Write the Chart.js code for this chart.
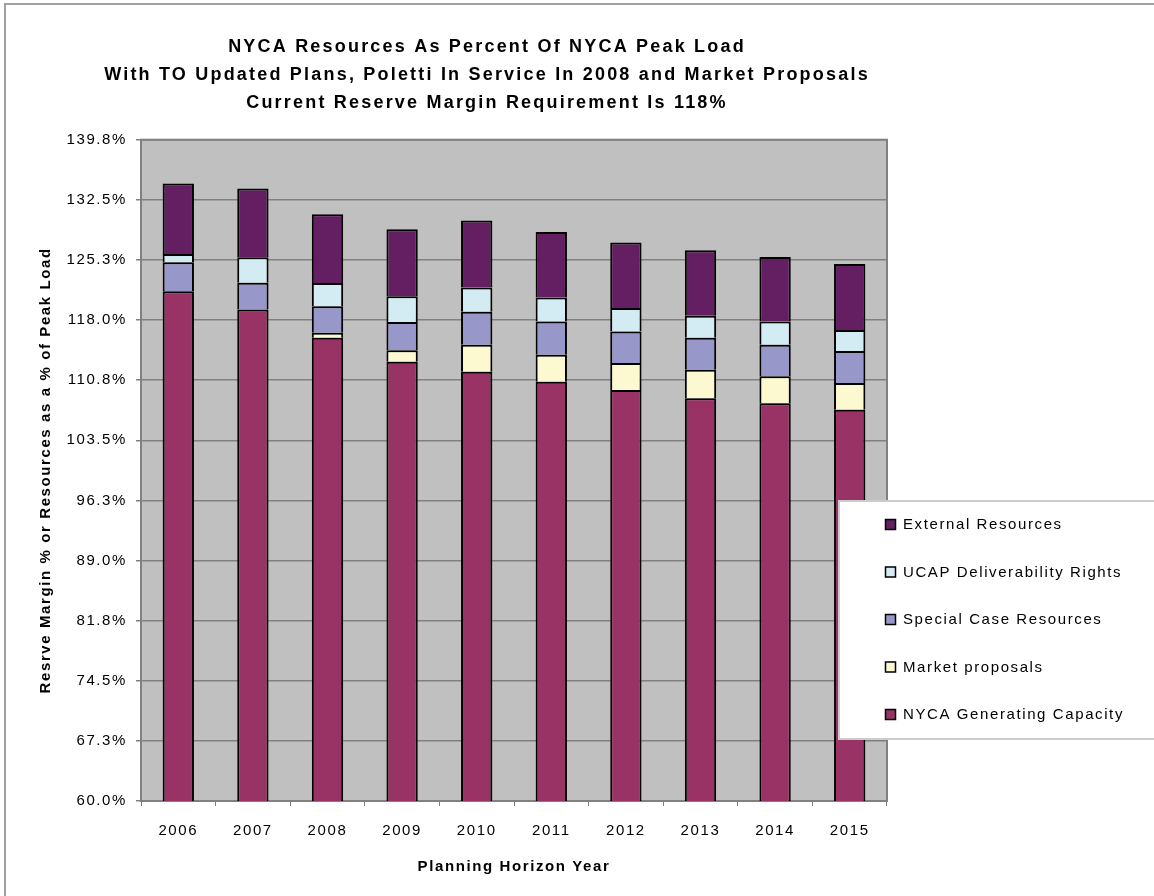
<!DOCTYPE html>
<html>
<head>
<meta charset="utf-8">
<title>NYCA Resources As Percent Of NYCA Peak Load</title>
<script src="https://cdn.jsdelivr.net/npm/chart.js@4"></script>
<style>
    body { margin: 0; background: #ffffff; }
    canvas { display: block; }
</style>
</head>
<body>
<canvas id="resourceChart" width="1154" height="896"></canvas>
<script>

// planning years and resource stacks (% of NYCA peak load)
const years = ["2006", "2007", "2008", "2009", "2010", "2011", "2012", "2013", "2014", "2015"];

const nycaCapacity = [121.5, 119.3, 115.9, 113.0, 111.8, 110.6, 109.6, 108.6, 108.0, 107.2];
const marketProposals = [0, 0, 0.6, 1.4, 3.25, 3.25, 3.25, 3.45, 3.25, 3.25];
const specialCase = [3.5, 3.25, 3.2, 3.4, 4.0, 4.0, 3.8, 3.85, 3.8, 3.85];
const ucapRights = [1.0, 3.05, 2.8, 3.1, 2.9, 2.9, 2.85, 2.65, 2.8, 2.55];
const externalRes = [8.5, 8.3, 8.3, 8.1, 8.1, 7.9, 7.9, 7.9, 7.8, 7.95];

const yTickLabels = [
    "60.0%", "67.3%", "74.5%", "81.8%", "89.0%", "96.3%",
    "103.5%", "110.8%", "118.0%", "125.3%", "132.5%", "139.8%"
];
const yMin = 60.0;
const yMax = 139.8;

const FONT = "Arial, 'Liberation Sans', sans-serif";
const TRACKING = "1.6px";
const TITLE_TRACKING = "2.2px";

// wide text tracking, set before layout so measuring and drawing agree;
// the title block is re-centred over the whole chart frame and tracked wider
const textTracking = {
    id: "textTracking",
    beforeUpdate(chart) { chart.ctx.letterSpacing = TRACKING; },
    afterLayout(chart) {
        const t = chart.titleBlock;
        if (!t) return;
        t.left = 100;
        t.right = 874;
        if (!t._tracked) {
            const draw = t.draw.bind(t);
            t.draw = () => {
                chart.ctx.letterSpacing = TITLE_TRACKING;
                draw();
                chart.ctx.letterSpacing = TRACKING;
            };
            t._tracked = true;
        }
    },
    beforeDraw(chart) { chart.ctx.letterSpacing = TRACKING; }
};

// grey plot area plus the outer frame
const plotBackground = {
    id: "plotBackground",
    beforeDraw(chart) {
        const { ctx, chartArea: a } = chart;
        ctx.save();
        ctx.fillStyle = "#c0c0c0";
        ctx.fillRect(a.left, a.top, a.right - a.left, a.bottom - a.top);
        ctx.strokeStyle = "#808080";
        ctx.lineWidth = 2;
        ctx.strokeRect(a.left, a.top, a.right - a.left, a.bottom - a.top);

        ctx.strokeStyle = "#a0a0a0";
        ctx.lineWidth = 2;
        ctx.beginPath();
        ctx.moveTo(5, 900);
        ctx.lineTo(5, 4);
        ctx.lineTo(1160, 4);
        ctx.stroke();
        ctx.restore();
    }
};

// boxed legend laid over the right side of the plot, top series first
const boxLegend = {
    id: "boxLegend",
    afterDraw(chart) {
        const { ctx } = chart;
        const sets = chart.data.datasets.slice().reverse();

        ctx.save();
        ctx.fillStyle = "#ffffff";
        ctx.fillRect(839, 501, 330, 238);
        ctx.strokeStyle = "#cccccc";
        ctx.lineWidth = 2;
        ctx.strokeRect(839, 501, 330, 238);

        ctx.font = "15px " + FONT;
        ctx.textBaseline = "middle";
        sets.forEach((ds, i) => {
            const y = 524 + i * 47.5;
            ctx.fillStyle = ds.backgroundColor;
            ctx.fillRect(885, y - 5, 11, 11);
            ctx.strokeStyle = "#000000";
            ctx.lineWidth = 1.5;
            ctx.strokeRect(885.5, y - 4.5, 10, 10);
            ctx.fillStyle = "#000000";
            ctx.fillText(ds.label, 903, y + 1);
        });
        ctx.restore();
    }
};

function makeSet(label, data, color) {
    return {
        label: label,
        data: data,
        backgroundColor: color,
        borderColor: "#000000",
        borderWidth: 2,
        barPercentage: 0.42,
        categoryPercentage: 1.0
    };
}

new Chart(document.getElementById("resourceChart"), {

    type: "bar",

    data: {
        labels: years,
        datasets: [
            makeSet("NYCA Generating Capacity", nycaCapacity, "#993366"),
            makeSet("Market proposals", marketProposals, "#fcf9d0"),
            makeSet("Special Case Resources", specialCase, "#9797ca"),
            makeSet("UCAP Deliverability Rights", ucapRights, "#d3ecf3"),
            makeSet("External Resources", externalRes, "#631f62")
        ]
    },

    options: {
        responsive: false,
        animation: false,
        layout: {
            padding: { top: 0, right: 267, bottom: 0, left: 0 }
        },
        plugins: {
            legend: { display: false },
            tooltip: { enabled: false },
            title: {
                display: true,
                fullSize: false,
                text: [
                    "NYCA Resources As Percent Of NYCA Peak Load",
                    "With TO Updated Plans, Poletti In Service In 2008 and Market Proposals",
                    "Current Reserve Margin Requirement Is 118%"
                ],
                color: "#000000",
                font: { family: FONT, size: 18, weight: "bold", lineHeight: 1.55 },
                padding: { top: 33, bottom: 23 }
            }
        },
        scales: {
            x: {
                stacked: true,
                afterFit(scale) { scale.height = 95; },
                grid: {
                    offset: true,
                    drawOnChartArea: false,
                    drawTicks: true,
                    tickLength: 5,
                    color: "#808080"
                },
                border: { color: "#808080", width: 2 },
                ticks: {
                    color: "#000000",
                    padding: 16,
                    font: { family: FONT, size: 15 }
                },
                title: {
                    display: true,
                    text: "Planning Horizon Year",
                    color: "#000000",
                    font: { family: FONT, size: 15, weight: "bold", lineHeight: 1.2 },
                    padding: { top: 0, bottom: 20 }
                }
            },
            y: {
                stacked: true,
                min: yMin,
                max: yMax,
                afterFit(scale) { scale.width = 141; },
                ticks: {
                    stepSize: (yMax - yMin) / (yTickLabels.length - 1),
                    color: "#000000",
                    padding: 9,
                    font: { family: FONT, size: 15 },
                    callback: (value, index) => yTickLabels[index]
                },
                grid: {
                    color: "#808080",
                    lineWidth: 1.5,
                    tickLength: 5
                },
                border: { color: "#808080", width: 2 },
                title: {
                    display: true,
                    text: "Resrve Margin % or Resources as a % of Peak Load",
                    color: "#000000",
                    font: { family: FONT, size: 15, weight: "bold", lineHeight: 1.2 },
                    padding: { top: 37, bottom: 0 }
                }
            }
        }
    },

    plugins: [textTracking, plotBackground, boxLegend]

});
</script>
</body>
</html>
